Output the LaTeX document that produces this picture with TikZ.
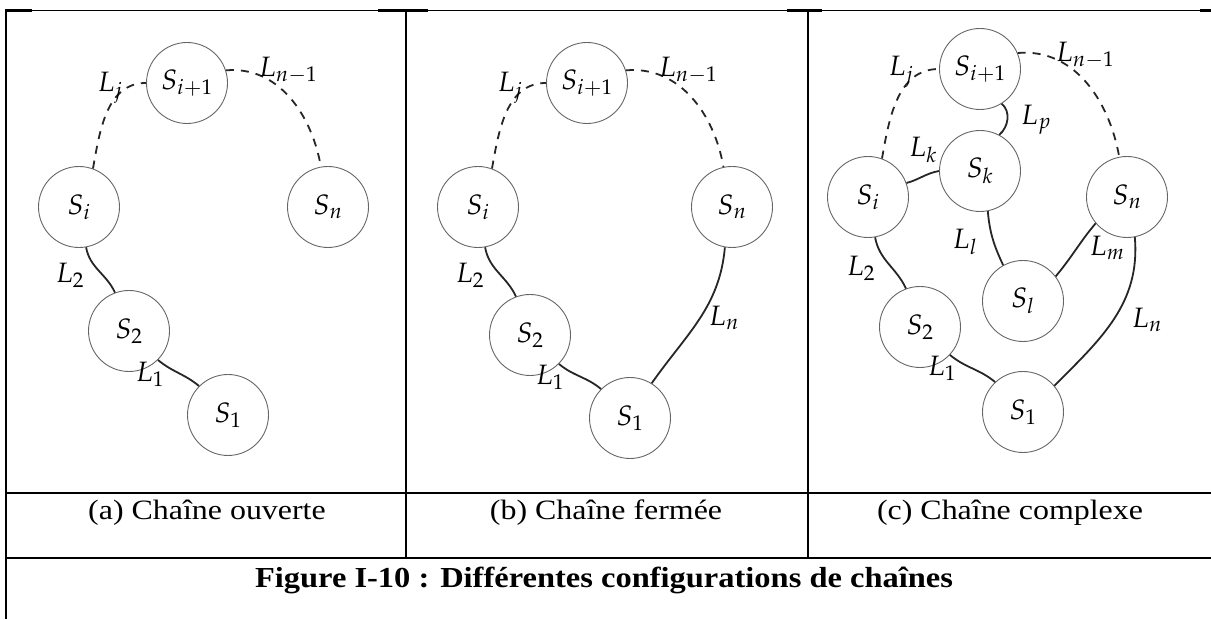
\documentclass[tikz,border=0pt]{standalone}
\usepackage{mathpazo}
\usepackage{fontspec}
\newfontfamily\capfont{Liberation Serif}
\begin{document}
\begin{tikzpicture}[x=1pt,y=1pt]
\tikzset{
  sn/.style={circle, draw=black!60, line width=0.9pt, minimum size=81pt, inner sep=0pt, font=\fontsize{28}{32}\selectfont},
  lk/.style={line width=1.8pt, draw=black!85},
  dl/.style={lk, dash pattern=on 8pt off 7pt},
  lab/.style={inner sep=0pt, font=\fontsize{28}{32}\selectfont},
  tl/.style={line width=2.2pt},
  capt/.style={anchor=base, inner sep=0pt, font=\capfont\fontsize{28}{32}\selectfont},
  bcapt/.style={anchor=base, inner sep=0pt, font=\capfont\fontsize{29}{33}\selectfont\bfseries}
}
\useasboundingbox (0,0) rectangle (1211,619);
% ---------- table lines ----------
\draw[line width=0.9pt] (5,608.5) -- (1211,608.5);
\foreach \a/\b in {5/32,378/428,787/822,1200/1211}{\draw[tl] (\a,608.5) -- (\b,608.5);}
\draw[tl] (6,0) -- (6,609);
\draw[tl] (406,61) -- (406,609);
\draw[tl] (808,61) -- (808,609);
\draw[line width=2.4pt] (5,126) -- (1211,126);
\draw[line width=2.4pt] (5,61) -- (1211,61);
% ---------- panel (a) ----------
\node[sn] (asi1) at (187,536) {$S_{i+1}$};
\node[sn] (asi) at (79,412) {$S_i$};
\node[sn] (asn) at (328,412) {$S_n$};
\node[sn] (as2) at (129,288) {$S_2$};
\node[sn] (as1) at (228,204) {$S_1$};
\draw[dl] (asi.70) to[out=80,in=180] (asi1.180);
\draw[dl] (asi1.18) to[out=5,in=100] (asn.100);
\draw[lk] (asi.-80) to[out=-80,in=115] (as2.110);
\draw[lk] (as2.-45) to[out=-40,in=140] (as1.135);
\node[lab] (alj) at (110,531) {$L_j$};
\node[lab] (aln1) at (288,549) {$L_{n-1}$};
\node[lab] (al2) at (70,344) {$L_2$};
\node[lab] (al1) at (150,245) {$L_1$};
% ---------- panel (b) ----------
\node[sn] (bsi1) at (587,536) {$S_{i+1}$};
\node[sn] (bsi) at (478,412) {$S_i$};
\node[sn] (bsn) at (732,412) {$S_n$};
\node[sn] (bs2) at (530,284) {$S_2$};
\node[sn] (bs1) at (630,201) {$S_1$};
\draw[dl] (bsi.70) to[out=80,in=180] (bsi1.180);
\draw[dl] (bsi1.18) to[out=5,in=100] (bsn.102);
\draw[lk] (bsi.-80) to[out=-80,in=115] (bs2.110);
\draw[lk] (bs2.-45) to[out=-40,in=140] (bs1.135);
\draw[lk] (bsn.-100) to[out=-95,in=55] (bs1.58);
\node[lab] (blj) at (510,531) {$L_j$};
\node[lab] (bln1) at (688,549) {$L_{n-1}$};
\node[lab] (bl2) at (470,344) {$L_2$};
\node[lab] (bl1) at (550,242) {$L_1$};
\node[lab] (bln) at (724,301) {$L_n$};
% ---------- panel (c) ----------
\node[sn] (csi1) at (980,550) {$S_{i+1}$};
\node[sn] (csk) at (980,448) {$S_k$};
\node[sn] (csi) at (868,422) {$S_i$};
\node[sn] (csn) at (1127,422) {$S_n$};
\node[sn] (csl) at (1023,318) {$S_l$};
\node[sn] (cs2) at (920,292) {$S_2$};
\node[sn] (cs1) at (1023,207) {$S_1$};
\draw[dl] (csi.70) to[out=80,in=180] (csi1.180);
\draw[dl] (csi1.23) to[out=5,in=100] (csn.101);
\draw[lk] (csi1.-58) to[out=-40,in=40] (csk.62);
\draw[lk] (csi.20) to[out=15,in=190] (csk.180);
\draw[lk] (csk.-79) to[out=-85,in=115] (csl.119);
\draw[lk] (csl.37) to[out=50,in=230] (csn.-140);
\draw[lk] (csn.-79) to[out=-85,in=45] (cs1.40);
\draw[lk] (csi.-80) to[out=-80,in=115] (cs2.110);
\draw[lk] (cs2.-43) to[out=-40,in=140] (cs1.133);
\node[lab] (clj) at (901,547) {$L_j$};
\node[lab] (cln1) at (1085,564) {$L_{n-1}$};
\node[lab] (clp) at (1036,499) {$L_p$};
\node[lab] (clk) at (923,469) {$L_k$};
\node[lab] (cll) at (965,377) {$L_l$};
\node[lab] (clm) at (1107,371) {$L_m$};
\node[lab] (cln) at (1147,299) {$L_n$};
\node[lab] (cl2) at (861,351) {$L_2$};
\node[lab] (cl1) at (942,251) {$L_1$};
% ---------- captions ----------
\node[capt] (capa) at (207,99) {\scalebox{1.14}[1]{(a) Chaîne ouverte}};
\node[capt] (capb) at (606,99) {\scalebox{1.14}[1]{(b) Chaîne fermée}};
\node[capt] (capc) at (1010,99) {\scalebox{1.14}[1]{(c) Chaîne complexe}};
\node[bcapt] (fig) at (604,31) {\scalebox{1.12}[1]{Figure I-10 : Différentes configurations de chaînes}};
\end{tikzpicture}
\end{document}
